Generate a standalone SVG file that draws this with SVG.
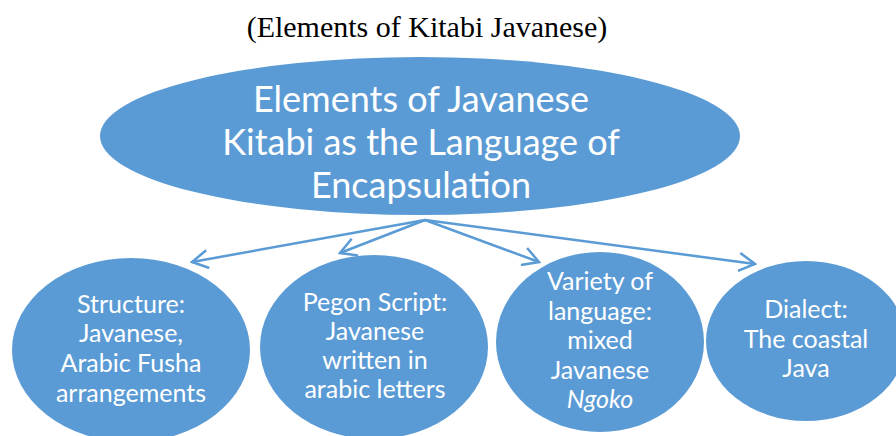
<svg xmlns="http://www.w3.org/2000/svg" width="896" height="436" viewBox="0 0 896 436">
<style>
.node{fill:#5B9BD5;}
.big{font-family:Lato,"Open Sans",sans-serif;font-size:36px;fill:#ffffff;text-anchor:middle;}
.sm{font-family:Lato,"Open Sans",sans-serif;font-size:25px;fill:#ffffff;text-anchor:middle;}
.title{font-family:"Liberation Serif",serif;font-size:30px;fill:#000000;text-anchor:middle;}
.conn{stroke:#5B9BD5;stroke-width:2.5;fill:none;}
</style>
<defs>
<marker id="arr" viewBox="0 0 20 20" refX="18" refY="10" markerWidth="20" markerHeight="20" markerUnits="userSpaceOnUse" orient="auto">
<path d="M2,1 L18,10 L2,19" fill="none" stroke="#5B9BD5" stroke-width="2.5"/>
</marker>
</defs>
<rect width="896" height="436" fill="#ffffff"/>
<text class="title" x="427" y="37">(Elements of Kitabi Javanese)</text>
<g id="root">
<ellipse class="node" cx="420" cy="136" rx="320" ry="79"/>
<text class="big" x="421" y="112">Elements of Javanese</text>
<text class="big" x="421" y="155">Kitabi as the Language of</text>
<text class="big" x="421" y="198">Encapsulation</text>
</g>
<g id="connectors">
<line class="conn" x1="425" y1="220" x2="192" y2="262" marker-end="url(#arr)"/>
<line class="conn" x1="425" y1="220" x2="340" y2="253" marker-end="url(#arr)"/>
<line class="conn" x1="425" y1="220" x2="539" y2="262" marker-end="url(#arr)"/>
<line class="conn" x1="425" y1="220" x2="755" y2="264" marker-end="url(#arr)"/>
</g>
<g id="structure">
<ellipse class="node" cx="131" cy="350" rx="119" ry="92"/>
<text class="sm" x="131" y="313">Structure:</text>
<text class="sm" x="131" y="342">Javanese,</text>
<text class="sm" x="131" y="372">Arabic Fusha</text>
<text class="sm" x="131" y="402">arrangements</text>
</g>
<g id="pegon">
<ellipse class="node" cx="374" cy="347" rx="114" ry="92"/>
<text class="sm" x="375" y="311">Pegon Script:</text>
<text class="sm" x="375" y="340">Javanese</text>
<text class="sm" x="375" y="369">written in</text>
<text class="sm" x="375" y="398">arabic letters</text>
</g>
<g id="variety">
<ellipse class="node" cx="600" cy="342" rx="104" ry="90"/>
<text class="sm" x="600" y="290">Variety of</text>
<text class="sm" x="600" y="319.5">language:</text>
<text class="sm" x="600" y="349">mixed</text>
<text class="sm" x="600" y="378.5">Javanese</text>
<text class="sm" x="600" y="408" font-style="italic">Ngoko</text>
</g>
<g id="dialect">
<ellipse class="node" cx="806" cy="341" rx="100" ry="80"/>
<text class="sm" x="806" y="318">Dialect:</text>
<text class="sm" x="806" y="348">The coastal</text>
<text class="sm" x="806" y="377">Java</text>
</g>
</svg>
